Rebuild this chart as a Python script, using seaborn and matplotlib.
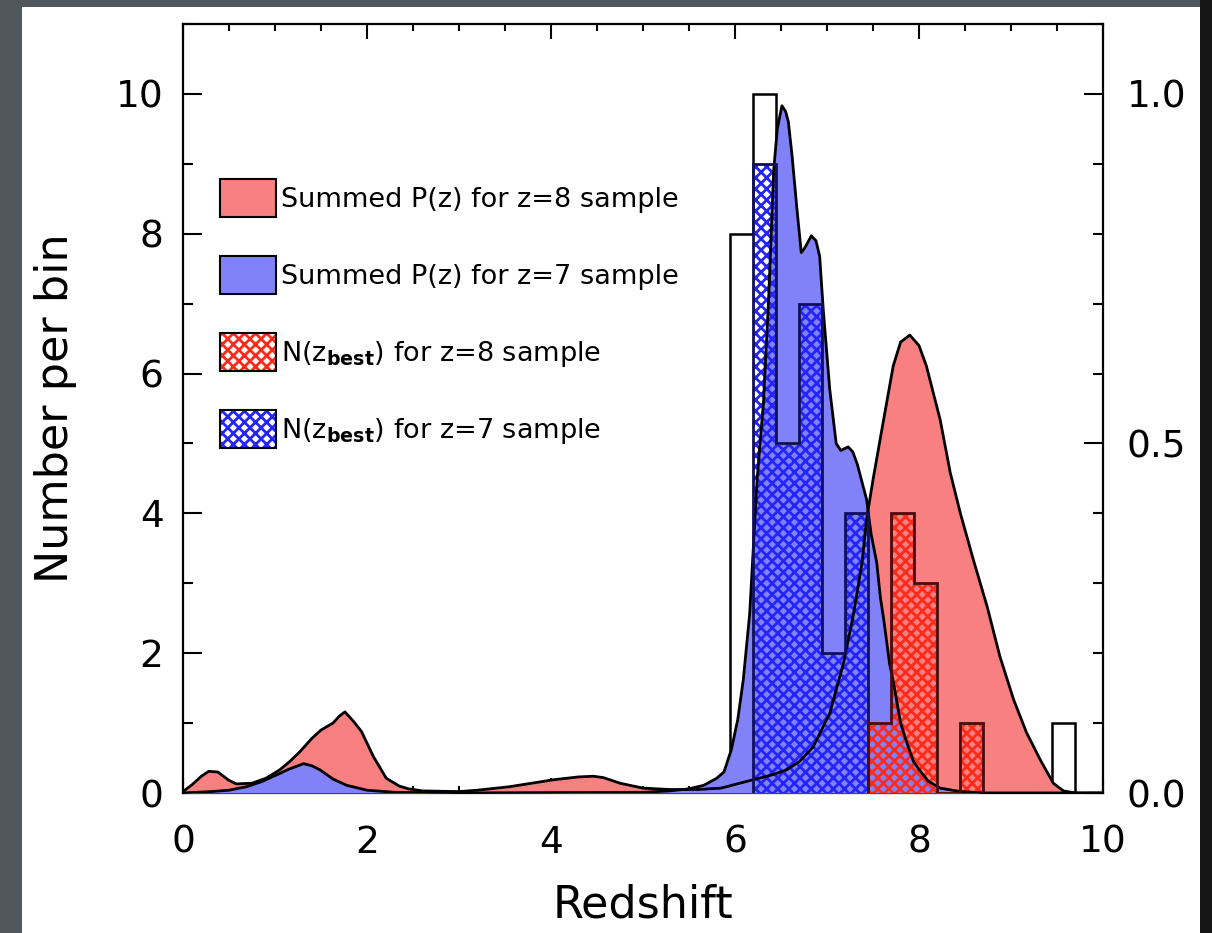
import numpy as np
import matplotlib
matplotlib.use("Agg")
import matplotlib.pyplot as plt
import seaborn as sns
from matplotlib.patches import Rectangle, Patch
from matplotlib.legend_handler import HandlerTuple
from matplotlib.ticker import MultipleLocator, FormatStrFormatter

# ---------------- data ----------------
# Summed P(z) for the z=8 sample (left-axis units)
red_z = [0.00, 0.10, 0.20, 0.28, 0.38, 0.50, 0.58, 0.75, 0.90, 1.05, 1.16, 1.27,
         1.40, 1.50, 1.63, 1.70, 1.76, 1.85, 1.94, 2.07, 2.21, 2.35, 2.45, 2.60,
         3.00, 3.20, 3.55, 4.03, 4.30, 4.46, 4.57, 4.75, 5.00, 5.29, 5.60, 5.85,
         6.05, 6.38, 6.56, 6.70, 6.85, 7.03, 7.18, 7.29, 7.38, 7.43, 7.50, 7.61,
         7.72, 7.80, 7.90, 8.00, 8.08, 8.23, 8.34, 8.45, 8.59, 8.74, 8.88, 9.03,
         9.17, 9.32, 9.46, 9.57, 9.70, 10.00]
red_p = [0.02, 0.12, 0.24, 0.31, 0.30, 0.18, 0.13, 0.14, 0.21, 0.33, 0.45, 0.59,
         0.78, 0.90, 1.00, 1.10, 1.16, 1.03, 0.88, 0.52, 0.21, 0.10, 0.06, 0.03,
         0.02, 0.04, 0.09, 0.19, 0.23, 0.24, 0.22, 0.14, 0.07, 0.05, 0.05, 0.07,
         0.14, 0.25, 0.33, 0.45, 0.66, 1.14, 1.86, 2.57, 3.29, 3.91, 4.48, 5.30,
         6.11, 6.45, 6.55, 6.40, 6.11, 5.34, 4.58, 4.00, 3.34, 2.67, 1.95, 1.33,
         0.86, 0.47, 0.14, 0.03, 0.00, 0.00]

# Summed P(z) for the z=7 sample
blue_z = [0.00, 0.30, 0.50, 0.69, 0.85, 1.02, 1.15, 1.31, 1.40, 1.49, 1.63, 1.78,
          2.00, 2.30, 3.00, 5.00, 5.29, 5.50, 5.66, 5.80, 5.88, 5.96, 6.03, 6.09,
          6.16, 6.20, 6.24, 6.31, 6.37, 6.42, 6.46, 6.51, 6.55, 6.58, 6.62, 6.67,
          6.72, 6.76, 6.83, 6.88, 6.92, 6.96, 7.03, 7.10, 7.15, 7.23, 7.28, 7.33,
          7.38, 7.43, 7.48, 7.54, 7.58, 7.62, 7.68, 7.72, 7.80, 7.86, 7.94, 8.01,
          8.10, 8.23, 8.45, 8.70, 10.00]
blue_p = [0.00, 0.02, 0.04, 0.09, 0.16, 0.26, 0.34, 0.42, 0.39, 0.33, 0.20, 0.11,
          0.04, 0.01, 0.00, 0.01, 0.03, 0.06, 0.11, 0.21, 0.30, 0.62, 1.05, 1.62,
          2.57, 3.53, 4.48, 5.60, 7.20, 8.90, 9.50, 9.83, 9.75, 9.60, 9.12, 8.40,
          7.73, 7.80, 7.97, 7.90, 7.68, 6.90, 5.77, 5.00, 4.90, 4.95, 4.88, 4.70,
          4.45, 4.20, 3.70, 3.30, 2.80, 2.45, 1.85, 1.60, 1.00, 0.75, 0.45, 0.32,
          0.17, 0.07, 0.02, 0.00, 0.00]

# N(z_best) histograms (bin edges, counts)
nz8_edges = [7.45, 7.70, 7.95, 8.20, 8.45, 8.70]
nz8_counts = [1, 4, 3, 0, 1]
nz7_edges = [6.20, 6.45, 6.70, 6.95, 7.20, 7.45]
nz7_counts = [9, 5, 7, 2, 4]
# open (unfilled) histogram
open_edges = [5.95, 6.20, 6.45, 6.70, 6.95, 7.20, 7.45, 7.70, 7.95, 8.20, 8.45,
              8.70, 8.95, 9.20, 9.45, 9.70]
open_counts = [8, 10, 0, 0, 0, 0, 0, 0, 0, 0, 0, 0, 0, 0, 1]

labels = ["Summed P(z) for z=8 sample",
          "Summed P(z) for z=7 sample",
          r"N($\mathrm{z}_{\mathbf{best}}$) for z=8 sample",
          r"N($\mathrm{z}_{\mathbf{best}}$) for z=7 sample"]

# ---------------- style ----------------
sns.set_theme(style="ticks")
plt.rcParams["font.family"] = ["DejaVu Sans"]
plt.rcParams["mathtext.fontset"] = "dejavusans"
plt.rcParams["hatch.linewidth"] = 2.0
plt.rcParams["axes.edgecolor"] = "black"
plt.rcParams["axes.linewidth"] = 1.6
plt.rcParams["text.color"] = "black"
plt.rcParams["axes.labelcolor"] = "black"
plt.rcParams["xtick.color"] = "black"
plt.rcParams["ytick.color"] = "black"

RED_FILL = "#f88080"
BLUE_FILL = "#8282f8"
RED_HATCH = "#ff2a1a"
BLUE_HATCH = "#2424ff"
HATCH = "xxx"

fig = plt.figure(figsize=(12.12, 9.33), dpi=100)
fig.patch.set_facecolor("#50585d")
fig.add_artist(Rectangle((1200 / 1212, 0), 12 / 1212, 1, transform=fig.transFigure,
                         facecolor="#151515", edgecolor="none", zorder=-2))
fig.add_artist(Rectangle((22 / 1212, 0), (1200 - 22) / 1212, (933 - 7) / 933,
                         transform=fig.transFigure, facecolor="white",
                         edgecolor="none", zorder=-1))

ax = fig.add_axes([183 / 1212, (933 - 793) / 933, 920 / 1212, (793 - 24) / 933])
ax.set_facecolor("white")

# open histogram
ax.stairs(open_counts, open_edges, fill=False, edgecolor="black", linewidth=1.8, zorder=1.5)

# summed P(z) fills
ax.fill_between(red_z, red_p, color=RED_FILL, linewidth=0, zorder=2)
ax.fill_between(blue_z, blue_p, color=BLUE_FILL, linewidth=0, zorder=3)

# hatched N(z_best) histograms
ax.stairs(nz7_counts, nz7_edges, fill=True, facecolor="none", edgecolor=BLUE_HATCH,
          hatch=HATCH, linewidth=0, zorder=4)
ax.stairs(nz8_counts, nz8_edges, fill=True, facecolor="none", edgecolor=RED_HATCH,
          hatch=HATCH, linewidth=0, zorder=4)

# P(z) outlines
sns.lineplot(x=red_z, y=red_p, ax=ax, color="black", linewidth=2.0, sort=False,
             estimator=None, zorder=5)
sns.lineplot(x=blue_z, y=blue_p, ax=ax, color="black", linewidth=2.0, sort=False,
             estimator=None, zorder=5)

# histogram outlines
ax.stairs(nz7_counts, nz7_edges, fill=False, edgecolor="#10105a", linewidth=2.0, zorder=6)
ax.stairs(nz8_counts, nz8_edges, fill=False, edgecolor="#4a0c0c", linewidth=2.0, zorder=6)

ax.set_xlim(0, 10)
ax.set_ylim(0, 11)

# right-hand axis (normalised scale)
ax2 = ax.twinx()
ax2.set_ylim(0, 1.1)
ax2.yaxis.set_major_locator(MultipleLocator(0.5))
ax2.yaxis.set_minor_locator(MultipleLocator(0.1))
ax2.yaxis.set_major_formatter(FormatStrFormatter("%.1f"))
ax2.tick_params(axis="y", which="both", direction="in", labelsize=27, pad=17)
ax2.tick_params(axis="y", which="major", length=14, width=1.5, pad=17)
ax2.tick_params(axis="y", which="minor", length=7, width=1.5, pad=17)
for s in ax2.spines.values():
    s.set_visible(False)

# ticks on main axes
ax.xaxis.set_major_locator(MultipleLocator(2))
ax.xaxis.set_minor_locator(MultipleLocator(0.5))
ax.yaxis.set_major_locator(MultipleLocator(2))
ax.yaxis.set_minor_locator(MultipleLocator(1))
ax.tick_params(axis="x", which="both", direction="in", top=True, bottom=True,
               labelsize=27)
ax.tick_params(axis="x", which="major", length=11, width=1.5, pad=23)
ax.tick_params(axis="x", which="minor", length=5, width=1.5, pad=23)
ax.tick_params(axis="y", which="both", direction="in", left=True, right=False,
               labelsize=27)
ax.tick_params(axis="y", which="major", length=14, width=1.5, pad=14)
ax.tick_params(axis="y", which="minor", length=7, width=1.5, pad=14)
for s in ax.spines.values():
    s.set_linewidth(1.6)
    s.set_color("black")

ax.set_xlabel("Redshift", fontsize=32)
ax.set_ylabel("Number per bin", fontsize=32)
ax.xaxis.set_label_coords(0.5, -0.118)
ax.yaxis.set_label_coords(-0.115, 0.5)

# legend
FS = 19.5
h1 = Patch(facecolor=RED_FILL, edgecolor="black", linewidth=1.5)
h2 = Patch(facecolor=BLUE_FILL, edgecolor="black", linewidth=1.5)
h3 = (Patch(facecolor="white", edgecolor=RED_HATCH, hatch=HATCH, linewidth=0),
      Patch(fill=False, edgecolor="black", linewidth=1.5))
h4 = (Patch(facecolor="white", edgecolor=BLUE_HATCH, hatch=HATCH, linewidth=0),
      Patch(fill=False, edgecolor="black", linewidth=1.5))
leg = ax.legend([h1, h2, h3, h4], labels, loc="upper left",
                bbox_to_anchor=((220 - 183) / 920, (793 - 179) / 769),
                frameon=False, fontsize=FS, handlelength=2.07, handleheight=1.785,
                labelspacing=1.44, handletextpad=0.2, borderpad=0, borderaxespad=0,
                handler_map={tuple: HandlerTuple(ndivide=1, pad=0)})
leg.set_zorder(10)

fig.savefig("out.png", dpi=100, facecolor=fig.get_facecolor())
